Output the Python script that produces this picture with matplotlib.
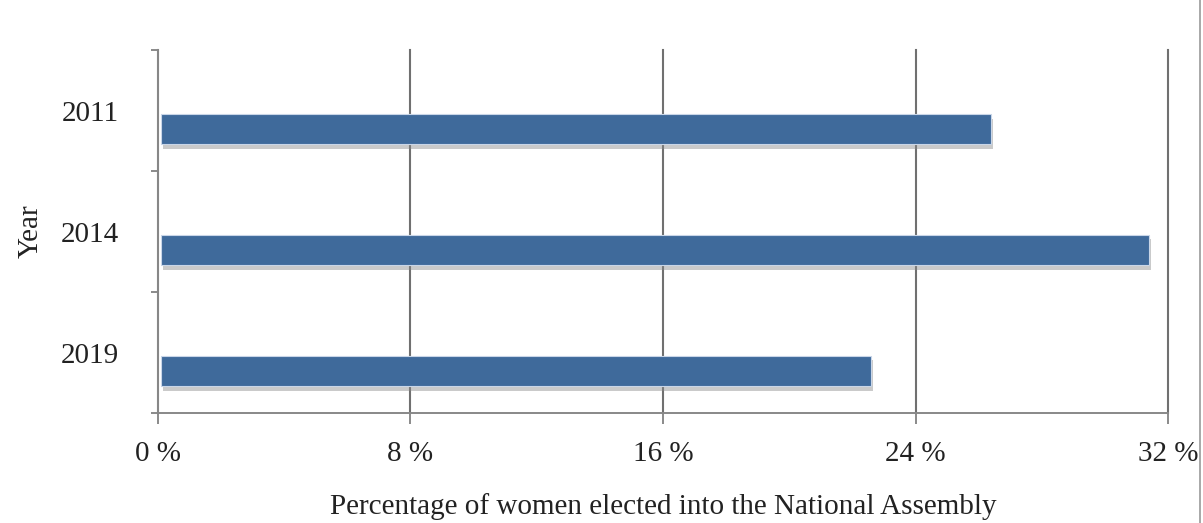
import matplotlib.pyplot as plt
import matplotlib.patheffects as pe
from matplotlib.lines import Line2D
import numpy as np

# Data
years = ['2011', '2014', '2019']
women_pct = [26.3, 31.3, 22.5]
x_ticks = [0, 8, 16, 24, 32]

plt.rcParams['font.family'] = ['Liberation Serif', 'DejaVu Serif']

fig = plt.figure(figsize=(12.03, 5.23), dpi=100)
ax = fig.add_axes([0.1313, 0.2103, 0.8397, 0.6937])

y = np.arange(len(years))
# bars sit a little below the category centre
bars = ax.barh(y + 0.15, women_pct, height=0.25, left=0.1,
               color='#3F6A9B', edgecolor='#C9D6E8', linewidth=0.8, zorder=3)
for b in bars:
    b.set_path_effects([pe.SimplePatchShadow(offset=(1.5, -3.5), shadow_rgbFace='#8a8a8a', alpha=0.45),
                        pe.Normal()])

ax.set_xlim(0, 32)
ax.set_ylim(len(years) - 0.5, -0.5)
ax.set_xticks(x_ticks)
ax.set_xticklabels([f'{v} %' for v in x_ticks], fontsize=21, color='#222222')
ax.set_yticks(y)
ax.set_yticklabels(years, fontsize=21, color='#222222')
ax.set_yticks(np.arange(-0.5, len(years)), minor=True)

ax.tick_params(axis='y', which='major', length=0, pad=28)
ax.tick_params(axis='y', which='minor', length=5, color='#777777', width=1.2)
ax.tick_params(axis='x', which='major', length=8, color='#777777', width=1.2, pad=12)

ax.grid(axis='x', color='#707070', linewidth=1.5, zorder=0)
for gl in ax.get_xgridlines():
    gl.set_clip_on(False)
for s in ['top', 'right']:
    ax.spines[s].set_visible(False)
for s in ['left', 'bottom']:
    ax.spines[s].set_color('#888888')
    ax.spines[s].set_linewidth(1.4)

ax.set_xlabel('Percentage of women elected into the National Assembly', fontsize=21,
              labelpad=19, color='#222222')
ax.set_ylabel('Year', fontsize=21, labelpad=12, color='#222222')

# thin border on the right edge
fig.add_artist(Line2D([0.9975, 0.9975], [0, 1], transform=fig.transFigure,
                      color='#999999', linewidth=1.2))

plt.savefig('out.png', dpi=100)
